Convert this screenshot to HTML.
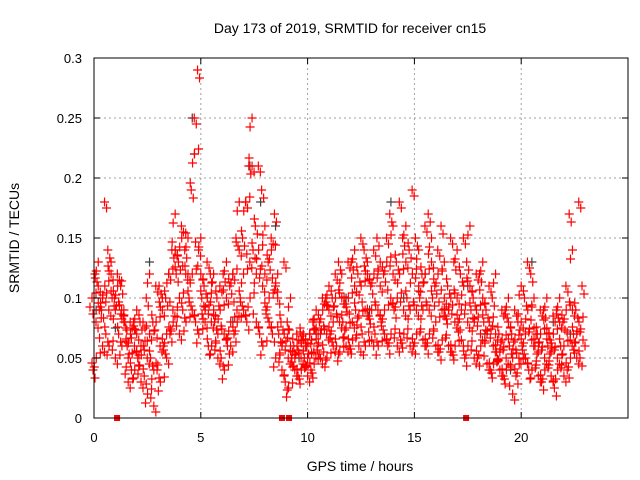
<!DOCTYPE html>
<html><head><meta charset="utf-8"><style>
body{margin:0;background:#fff}
svg{font-family:"Liberation Sans",sans-serif;display:block}
</style></head><body>
<svg id="chart" width="640" height="480">
<text x="350" y="33" text-anchor="middle" font-size="14">Day 173 of 2019, SRMTID for receiver cn15</text>
<text x="360" y="471" text-anchor="middle" font-size="14">GPS time / hours</text>
<text transform="translate(19,238) rotate(-90)" text-anchor="middle" font-size="14">SRMTID / TECUs</text>
<g id="grid"></g><g id="marks"></g><g id="axes"></g>
</svg>
<script>
const xTicks=[0,5,10,15,20];
const yTicks=[0,0.05,0.1,0.15,0.2,0.25,0.3];
const yTickLabels=["0","0.05","0.1","0.15","0.2","0.25","0.3"];
const hourStart=0, hourStep=0.2;
const redA=[.04,.05,.06,.07,.06,.05,.07,.06,.03,.04,.04,.03,.035,.02,.01,.04,.03,.05,.07,.08,.07,.09,.08,.09,.08,.07,.08,.06,.06,.05,.05,.04,.06,.07,.08,.09,.08,.10,.08,.07,.06,.08,.07,.05,.04,.03,.025,.04,.035,.04,.035,.04,.045,.05,.055,.05,.06,.06,.055,.06,.06,.065,.06,.07,.06,.065,.07,.06,.07,.06,.07,.06,.065,.07,.06,.06,.07,.065,.06,.07,.06,.055,.065,.06,.055,.06,.065,.05,.06,.05,.05,.06,.045,.04,.045,.04,.035,.04,.02,.035,.045,.05,.04,.04,.035,.03,.04,.035,.025,.04,.035,.04,.05,.05,.05];
const redB=[.08,.09,.10,.09,.10,.09,.09,.08,.05,.06,.05,.06,.05,.05,.04,.06,.06,.07,.09,.12,.10,.12,.10,.12,.14,.10,.09,.08,.08,.07,.07,.06,.08,.09,.10,.12,.13,.14,.12,.11,.09,.10,.11,.07,.06,.05,.05,.05,.05,.05,.05,.055,.06,.07,.07,.07,.08,.08,.08,.075,.08,.09,.085,.09,.085,.09,.09,.08,.09,.10,.09,.10,.09,.10,.09,.09,.10,.09,.09,.10,.08,.09,.085,.09,.08,.08,.09,.08,.09,.08,.07,.08,.07,.06,.055,.055,.05,.06,.05,.05,.06,.07,.065,.06,.055,.05,.06,.055,.05,.06,.06,.065,.07,.07,.065];
const redC=[.10,.11,.09,.11,.12,.10,.11,.08,.06,.07,.07,.08,.06,.07,.08,.08,.09,.10,.12,.14,.13,.15,.12,.19,.22,.12,.11,.10,.09,.10,.09,.10,.11,.12,.14,.15,.18,.21,.16,.14,.12,.13,.14,.10,.08,.07,.06,.06,.06,.065,.06,.07,.075,.08,.09,.09,.10,.10,.10,.095,.10,.11,.12,.11,.12,.11,.12,.11,.12,.13,.12,.13,.12,.13,.14,.12,.11,.12,.12,.13,.11,.12,.10,.11,.10,.10,.12,.11,.11,.10,.09,.10,.09,.08,.07,.07,.065,.08,.07,.065,.08,.10,.09,.075,.07,.07,.075,.065,.07,.08,.08,.09,.09,.09,.08];
const redD=[.12,.13,.18,.14,.13,.12,.11,.09,.08,.08,.09,.08,.10,.12,.11,.11,.10,.12,.14,.17,.16,.14,.15,.25,.29,.15,.13,.12,.12,.11,.12,.13,.12,.15,.18,.18,.21,.25,.21,.19,.16,.15,.17,.12,.13,.08,.10,.07,.075,.07,.07,.08,.09,.10,.10,.11,.12,.13,.12,.13,.13,.14,.15,.14,.13,.14,.15,.13,.15,.17,.16,.18,.15,.16,.19,.15,.14,.16,.17,.15,.14,.16,.13,.15,.13,.14,.15,.13,.16,.12,.12,.13,.11,.10,.12,.09,.09,.10,.09,.08,.11,.13,.12,.10,.09,.09,.10,.085,.09,.10,.11,.17,.14,.18,.11];
const darkHours=[0.1,1.0,2.6,3.8,4.6,4.7,6.5,7.3,7.8,8.5,9.6,10.4,11.8,12.9,13.9,14.5,15.5,16.4,17.5,18.3,19.5,20.5,21.5,22.3];
const darkValues=[.09,.075,.13,.14,.25,.22,.08,.21,.18,.16,.05,.07,.10,.09,.18,.10,.12,.09,.11,.07,.04,.13,.08,.07];
const flagHours=[1.08,8.8,9.13,17.42];
const flagValues=[0,0,0,0];

const L=94,R=628,T=58,B=418,xMax=25,yMax=0.3;
const X=h=>L+(h/xMax)*(R-L);
const Y=v=>B-(v/yMax)*(B-T);
const NS="http://www.w3.org/2000/svg";
function mk(tag,attrs,parent){const e=document.createElementNS(NS,tag);for(const k in attrs)e.setAttribute(k,attrs[k]);parent.appendChild(e);return e;}
const grid=document.getElementById('grid'),marks=document.getElementById('marks'),axes=document.getElementById('axes');
xTicks.forEach((t,i)=>{
  if(t>0){const g=mk('line',{x1:X(t),x2:X(t),y1:T,y2:B,stroke:'#a0a0a0','stroke-dasharray':'2,3'},grid);
  
  }
  mk('line',{x1:X(t),x2:X(t),y1:B,y2:B-6,stroke:'#000'},axes);
  mk('line',{x1:X(t),x2:X(t),y1:T,y2:T+6,stroke:'#000'},axes);
  const tx=mk('text',{x:X(t),y:B+24,'text-anchor':'middle','font-size':13},axes);tx.textContent=String(t);
  
  
});
yTicks.forEach((t,i)=>{
  if(t>0&&t<yMax){const g=mk('line',{x1:L,x2:R,y1:Y(t),y2:Y(t),stroke:'#a0a0a0','stroke-dasharray':'2,3'},grid);
  
  }
  mk('line',{x1:L,x2:L+6,y1:Y(t),y2:Y(t),stroke:'#000'},axes);
  mk('line',{x1:R,x2:R-6,y1:Y(t),y2:Y(t),stroke:'#000'},axes);
  const tx=mk('text',{x:L-12,y:Y(t)+5,'text-anchor':'end','font-size':13},axes);tx.textContent=yTickLabels[i];
  
  
});
const frame=mk('rect',{x:L,y:T,width:R-L,height:B-T,fill:'none',stroke:'#000'},axes);


function plus(x,y,color){
  return mk('path',{d:`M${x-4.5},${y}H${x+4.5}M${x},${y-4.5}V${y+4.5}`,stroke:color,'stroke-width':1.2,fill:'none'},marks);
}
darkValues.forEach((v,i)=>{const p=plus(X(darkHours[i]),Y(v),'#404040');
  
  });
const series=[redA,redB,redC,redD];
// pixel offset patterns (style only) to mimic the dense scatter cloud
const patterns=[[[0,0],[2,8],[-1,-7]],[[1,0],[-2,-8],[3,6]],[[-1,0],[3,-5],[-3,9]]];
series.forEach((arr,k)=>{
  arr.forEach((v,i)=>{
    const bx=X(hourStart+i*hourStep)+((k*2)%4)-1, by=Y(v);
    patterns[(i*2+k)%3].forEach(([dx,dy],j)=>{
      if(j>0 && k===3 && dy<0) return;
      const p=plus(bx+dx,Math.min(B-4,by+dy),'#ff0000');
      
      
    });
  });
});
flagValues.forEach((v,i)=>{
  const r=mk('rect',{x:X(flagHours[i])-3,y:Y(v)-3,width:6,height:6,fill:'#ff0000'},marks);
  
  
});
</script>
</body></html>
